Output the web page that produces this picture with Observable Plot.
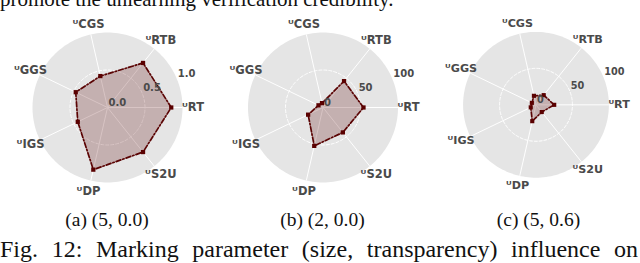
<!DOCTYPE html>
<html>
<head>
<meta charset="utf-8">
<script src="https://cdn.jsdelivr.net/npm/d3@7"></script>
<script src="https://cdn.jsdelivr.net/npm/@observablehq/plot@0.6"></script>
<style>
  html, body { margin: 0; padding: 0; background: white; width: 640px; height: 263px; overflow: hidden; }
  body { position: relative; font-family: "Liberation Serif", "Times New Roman", serif; color: #111; }
  .abs { position: absolute; white-space: nowrap; line-height: 1; }
  .chart { position: absolute; top: 12px; }
  .cap { position: absolute; text-align: center; white-space: nowrap; line-height: 1; }
</style>
</head>
<body>
<div id="top" class="abs" style="left:0px; top:-11.5px; font-size:21px;"></div>
<div id="charts"></div>
<div id="caps"></div>
<div id="fig" class="abs" style="left:0; top:237px; width:638px; font-size:24px; text-align:justify; text-align-last:justify; white-space:normal;"></div>
<script>
// ---- data ----
const axesNames = ["RT", "RTB", "CGS", "GGS", "IGS", "DP", "S2U"];
const valuesA = [0.85, 0.76, 0.43, 0.47, 0.44, 0.85, 0.76];
const valuesB = [54, 45, 6, 6.7, 22, 52.5, 42.5];
const valuesC = [25, 17, 12.7, 6.3, 8, 23, 12.7];
const tickLabelsA = ["0.0", "0.5", "1.0"];
const tickValuesA = [0, 0.5, 1.0];
const tickLabelsBC = ["0", "50", "100"];
const tickValuesBC = [0, 50, 100];
const rmaxValues = [1.0, 100, 100];
const subCaptions = ["(a) (5, 0.0)", "(b) (2, 0.0)", "(c) (5, 0.6)"];
const topText = "promote the unlearning verification credibility.";
const figText = "Fig. 12: Marking parameter (size, transparency) influence on";

document.getElementById("top").textContent = topText;
document.getElementById("fig").textContent = figText;

const R = 75;          // px radius of the outer circle
const W = 215, H = 195, CY = 95;
const centers = [107, 322.5, 538.5];
const n = axesNames.length;
const ang = i => i * 2 * Math.PI / n;

function radar(values, rmax, tLabels, tValues, cxPage) {
  const left = Math.round(cxPage - 107.5);
  const cx = cxPage - left;
  const disk = d3.range(0, 361, 2).map(a => ({x: Math.cos(a * Math.PI / 180), y: Math.sin(a * Math.PI / 180)}));
  const mid = tValues[1] / rmax;
  const midCircle = disk.map(d => ({x: d.x * mid, y: d.y * mid}));
  const spokes = axesNames.map((name, i) => ({x1: 0, y1: 0, x2: Math.cos(ang(i)), y2: Math.sin(ang(i))}));
  const pts = values.map((v, i) => ({x: v / rmax * Math.cos(ang(i)), y: v / rmax * Math.sin(ang(i))}));
  const closed = pts.concat([pts[0]]);
  const la = 22.5 * Math.PI / 180;
  const ticks = tValues.map((v, i) => ({x: v / rmax * Math.cos(la), y: v / rmax * Math.sin(la), t: tLabels[i]}));
  const labels = axesNames.map((name, i) => ({x: 1.14 * Math.cos(ang(i)), y: 1.14 * Math.sin(ang(i)), t: "\u1D41" + name}));
  const plot = Plot.plot({
    width: W, height: H,
    margin: 0,
    style: {background: "transparent", overflow: "visible"},
    x: {domain: [-cx / R, (W - cx) / R], range: [0, W], axis: null},
    y: {domain: [-(H - CY) / R, CY / R], range: [H, 0], axis: null},
    marks: [
      Plot.line(disk, {x: "x", y: "y", fill: "#e5e5e5", stroke: "none"}),
      Plot.line(midCircle, {x: "x", y: "y", stroke: "white", strokeWidth: 1, strokeDasharray: "3,2"}),
      Plot.link(spokes, {x1: "x1", y1: "y1", x2: "x2", y2: "y2", stroke: "white", strokeWidth: 1}),
      Plot.line(closed, {x: "x", y: "y", fill: "#5c0a0a", fillOpacity: 0.24, stroke: "#5a0303", strokeWidth: 1.7, strokeDasharray: "5,2,1.5,2"}),
      Plot.dot(pts, {x: "x", y: "y", symbol: "square", r: 2.4, fill: "#5a0000", stroke: "none"}),
      Plot.text(ticks, {x: "x", y: "y", text: "t", textAnchor: "start", dx: 1, dy: -5, fontSize: 10, fontWeight: "bold", fill: "#4a4a4a", fontFamily: "DejaVu Sans"}),
      Plot.text(labels, {x: "x", y: "y", text: "t", fontSize: 11.5, fontWeight: "bold", fill: "#4a4a4a", fontFamily: "DejaVu Sans"})
    ]
  });
  const wrap = document.createElement("div");
  wrap.className = "chart";
  wrap.style.left = left + "px";
  wrap.appendChild(plot);
  document.getElementById("charts").appendChild(wrap);
}

radar(valuesA, rmaxValues[0], tickLabelsA, tickValuesA, centers[0]);
radar(valuesB, rmaxValues[1], tickLabelsBC, tickValuesBC, centers[1]);
radar(valuesC, rmaxValues[2], tickLabelsBC, tickValuesBC, centers[2]);

subCaptions.forEach((c, i) => {
  const d = document.createElement("div");
  d.className = "cap";
  d.style.left = (centers[i] - 100) + "px";
  d.style.width = "200px";
  d.style.top = "210px";
  d.style.fontSize = "19.5px";
  d.textContent = c;
  document.getElementById("caps").appendChild(d);
});
</script>
</body>
</html>
